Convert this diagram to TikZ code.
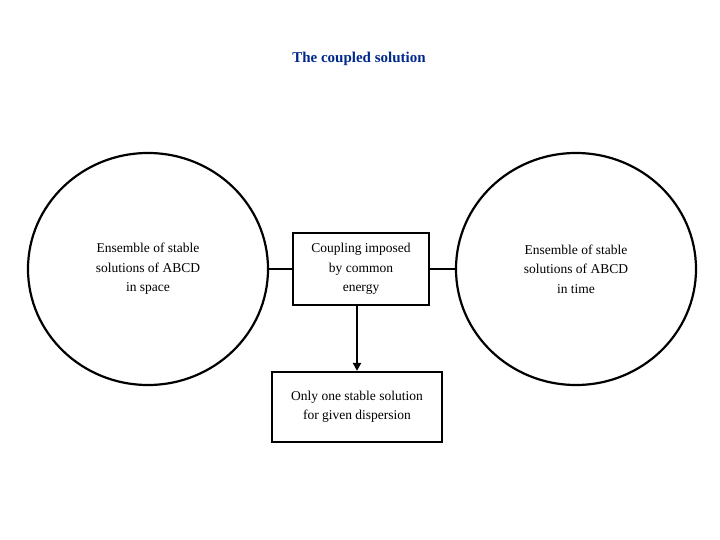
\documentclass[tikz,border=0pt]{standalone}
\usepackage{fontspec}
\setmainfont{Liberation Serif}
\usetikzlibrary{arrows.meta,shapes.geometric}
\begin{document}
\begin{tikzpicture}[x=1pt,y=-1pt,
  circ/.style={draw,line width=2.2pt,ellipse,inner sep=0pt,minimum width=240pt,minimum height=232pt,align=center,font=\fontsize{13.5}{19.5}\selectfont},
  bx/.style={draw,line width=2.2pt,align=center,font=\fontsize{13.5}{19.5}\selectfont,inner sep=0pt},
  ln/.style={line width=2.2pt}]
\useasboundingbox (0,0) rectangle (720,540);
\node[font=\fontsize{15}{17}\selectfont\bfseries,text={rgb,255:red,0;green,40;blue,140}] (t) at (359,59) {The coupled solution};
\node[circ] (l) at (148,269) {\raisebox{0pt}{}\hspace{0pt}Ensemble of stable\\solutions of ABCD\\in space};
\node[circ] (r) at (576,269) {Ensemble of stable\\solutions of ABCD\\in time};
\node[bx,minimum width=136pt,minimum height=72pt] (m) at (361,269) {Coupling imposed\\by common\\energy};
\node[bx,minimum width=170pt,minimum height=70pt] (b) at (357,407) {Only one stable solution\\for given dispersion};
\draw[ln] (l) -- (m);
\draw[ln] (m) -- (r);
\draw[ln,-{Triangle[length=8pt,width=8pt]}] (m.south -| b.north) -- (b.north);
\end{tikzpicture}
\end{document}
